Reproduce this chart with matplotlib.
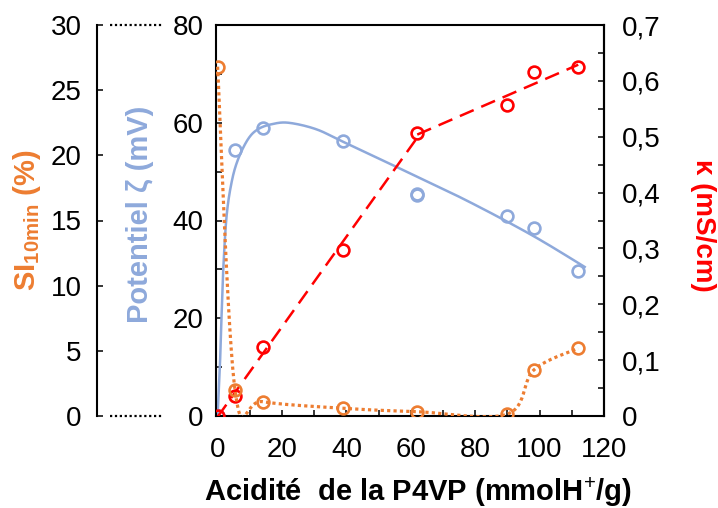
import numpy as np
import matplotlib
matplotlib.use("Agg")
import matplotlib.pyplot as plt
from matplotlib.lines import Line2D

plt.rcParams['font.family'] = ['Liberation Sans', 'DejaVu Sans']
plt.rcParams['mathtext.fontset'] = 'custom'
plt.rcParams['mathtext.rm'] = 'Liberation Sans'
plt.rcParams['mathtext.bf'] = 'Liberation Sans:bold'

# acidity of P4VP (mmolH+/g)
acidity = [0, 5.4, 14.0, 39.0, 62.0, 90.0, 98.2, 112.0]

# zeta potential (mV); two measurements at 62
zeta_x = [0, 5.4, 14.0, 39.0, 62.0, 62.0, 90.0, 98.2, 112.0]
zeta = [0, 54.4, 59.0, 56.3, 45.2, 45.5, 41.0, 38.4, 29.7]

# fitted trend curve of zeta
zeta_fit_x = [0, 0.7, 1.2, 1.75, 2.8, 4.4, 6.4, 9.5, 12.6, 16.8, 22.0, 30.5, 39.0, 56.4, 77.0, 97.6, 114.0]
zeta_fit = [0, 10.0, 20.0, 30.0, 41.0, 48.0, 52.6, 56.7, 58.7, 59.7, 60.0, 58.7, 56.1, 50.7, 44.2, 37.0, 30.5]

# SI 10 min (%)
si = [26.8, 2.0, 1.1, 0.59, 0.33, 0.15, 3.53, 5.19]

# conductivity kappa (mS/cm)
kappa = [0, 0.036, 0.124, 0.297, 0.506, 0.556, 0.615, 0.624]

orange = '#ED7D31'
blue = '#8EA9DB'
red = '#FF0000'


def smooth(xs, ys, n=30):
    # Excel style smoothed line (Catmull-Rom as cubic Bezier)
    p = np.column_stack([xs, ys]).astype(float)
    P = np.vstack([p[0], p, p[-1]])
    t = np.linspace(0, 1, n)[:, None]
    out = []
    for i in range(len(p) - 1):
        p0, p1, p2, p3 = P[i], P[i + 1], P[i + 2], P[i + 3]
        c1 = p1 + (p2 - p0) / 6
        c2 = p2 - (p3 - p1) / 6
        seg = (1 - t) ** 3 * p1 + 3 * (1 - t) ** 2 * t * c1 + 3 * (1 - t) * t ** 2 * c2 + t ** 3 * p2
        out.append(seg if i == 0 else seg[1:])
    out = np.vstack(out)
    return out[:, 0], out[:, 1]


fig = plt.figure(figsize=(7.18, 5.08), dpi=100)
ax = fig.add_axes([216 / 718, 92 / 508, 388 / 718, 391 / 508])
ax_k = ax.twinx()
ax_si = ax.twinx()

fs = 20
mk = dict(marker='o', markersize=8.5, markerfacecolor='none', markeredgewidth=1.9, linestyle='none')

# zeta potential (left axis)
fx, fy = smooth(zeta_fit_x, zeta_fit)
ax.plot(fx, fy, color=blue, lw=1.8)
ax.plot(zeta_x, zeta, markeredgecolor=blue, **mk)
ax.set_xlim(-0.5, 120)
ax.set_ylim(0, 80)
ax.set_xticks(np.arange(0, 121, 20))
ax.set_xticks(np.arange(0, 121, 10), minor=True)
ax.set_yticks(np.arange(0, 81, 20))
ax.set_yticks(np.arange(0, 81, 10), minor=True)
ax.tick_params(axis='both', which='both', direction='in', length=4, width=1.1, labelsize=fs)
ax.tick_params(axis='x', which='major', pad=15)
ax.tick_params(axis='y', which='major', pad=9)
ax.tick_params(top=False, right=False, which='both')
for s in ax.spines.values():
    s.set_linewidth(1.5)

# conductivity (right axis), two linear trend lines
ax_k.plot(acidity, kappa, markeredgecolor=red, **mk)
a1 = np.polyfit(acidity[:5], kappa[:5], 1)
a2 = np.polyfit(acidity[4:], kappa[4:], 1)
x1 = np.array([acidity[0], acidity[4]])
x2 = np.array([acidity[4], acidity[-1]])
ax_k.plot(x1, np.polyval(a1, x1), color=red, lw=1.8, dashes=(6, 3.3))
ax_k.plot(x2, np.polyval(a2, x2), color=red, lw=1.8, dashes=(6, 3.3))
ax_k.set_ylim(0, 0.7)
ax_k.set_yticks(np.arange(0, 0.71, 0.1))
ax_k.set_yticks(np.arange(0, 0.71, 0.05), minor=True)
ax_k.set_yticklabels(['0'] + [f'0,{i}' for i in range(1, 8)])
ax_k.tick_params(axis='y', which='both', direction='in', length=4, width=1.1, labelsize=fs)
ax_k.tick_params(axis='y', which='major', pad=13)
for k in ['left', 'top', 'bottom']:
    ax_k.spines[k].set_visible(False)
ax_k.spines['right'].set_linewidth(1.5)

# SI 10 min (outer left axis)
sx, sy = smooth(acidity, si)
ax_si.plot(sx, sy, color=orange, lw=2.3, dashes=(1, 1), dash_capstyle='butt')
ax_si.plot(acidity, si, markeredgecolor=orange, **mk)
ax_si.set_ylim(0, 30)
ax_si.set_yticks(np.arange(0, 31, 5))
ax_si.spines['left'].set_position(('axes', -119 / 388))
ax_si.spines['left'].set_visible(True)
ax_si.spines['left'].set_linewidth(1.5)
for k in ['right', 'top', 'bottom']:
    ax_si.spines[k].set_visible(False)
ax_si.yaxis.set_ticks_position('left')
ax_si.tick_params(axis='y', direction='in', length=4, width=1.1, labelsize=fs, pad=11)

# dotted connectors between the two left axes
for yy in (0, 1):
    ax.add_line(Line2D([-106 / 388, -53 / 388], [yy, yy], transform=ax.transAxes,
                       color='black', lw=1.6, linestyle=(0, (1, 1.2)), clip_on=False))

# axis titles
fig.text(418 / 718, 1 - 492 / 508, 'Acidité  de la P4VP (mmolH$^{+}$/g)', ha='center', va='center',
         fontsize=21, fontweight='bold')
fig.text(27 / 718, 1 - 220 / 508, r'$\mathbf{SI_{10min}}$ (%)', rotation=90, ha='center', va='center',
         fontsize=21, fontweight='bold', color=orange)
fig.text(140 / 718, 1 - 214 / 508, 'Potentiel ζ (mV)', rotation=90, ha='center', va='center',
         fontsize=21, fontweight='bold', color=blue)
fig.text(703 / 718, 1 - 225 / 508, 'κ (mS/cm)', rotation=270, ha='center', va='center',
         fontsize=20, fontweight='bold', color=red)

fig.savefig('out.png', dpi=100)
